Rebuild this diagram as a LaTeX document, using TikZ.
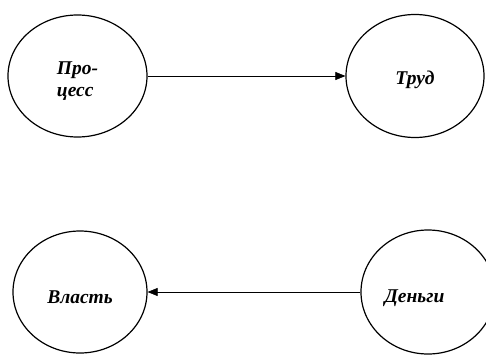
\documentclass[tikz,border=0pt]{standalone}
\usepackage{fontspec}
\setmainfont{Liberation Serif}
\usetikzlibrary{shapes.geometric,arrows.meta}
\newcommand{\lowerby}[2]{\raisebox{-#1}[\height][\depth]{#2}}
\begin{document}
\begin{tikzpicture}[x=1pt,y=1pt,
  ell/.style={draw,line width=1.2pt,ellipse,inner sep=0pt,font=\fontsize{19.5}{22.5}\selectfont\bfseries\itshape},
  conn/.style={line width=0.6pt,-{Triangle[length=10pt,width=8pt]}}]
\useasboundingbox (0,0) rectangle (486,354);
\node[ell,minimum width=139pt,minimum height=122pt] (p) at (77.5,278) {\lowerby{5pt}{\begin{tabular}{@{}l@{}}Про-\\цесс\end{tabular}}};
\node[ell,minimum width=138pt,minimum height=123pt] (t) at (415,278) {\lowerby{4pt}{Труд}};
\node[ell,minimum width=134pt,minimum height=122pt] (v) at (80,62) {\lowerby{5pt}{Власть}};
\node[ell,minimum width=134pt,minimum height=124pt] (d) at (428,62) {\hspace*{-27pt}\lowerby{6pt}{Деньги}};
\draw[conn] (p) -- (t);
\draw[conn] (d) -- (v);
\end{tikzpicture}
\end{document}
